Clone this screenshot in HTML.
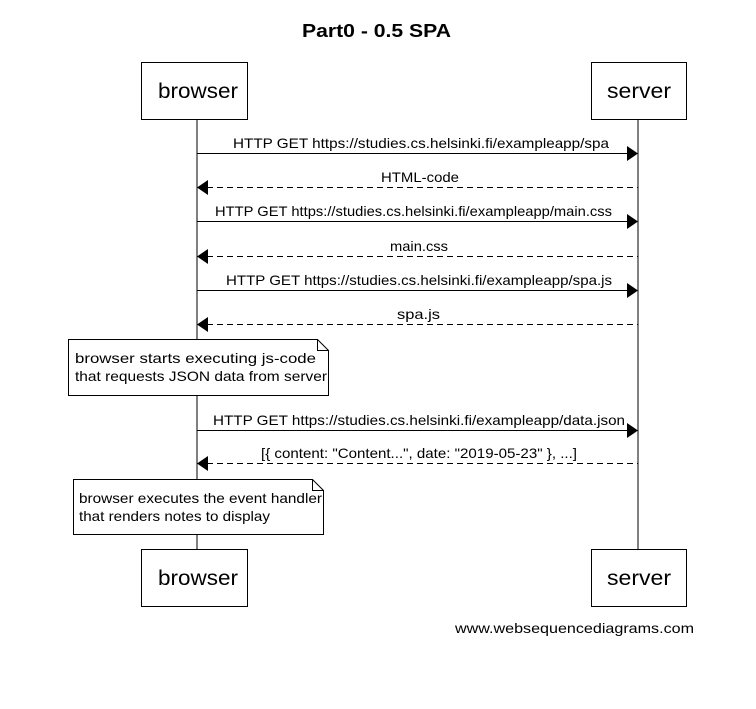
<!DOCTYPE html>
<html><head><style>body{margin:0;background:#fff}</style></head><body>
<svg width="756" height="704" xmlns="http://www.w3.org/2000/svg" font-family="Liberation Sans, sans-serif">
<rect width="756" height="704" fill="#fff"/>
<text x="302" y="37" textLength="149" lengthAdjust="spacingAndGlyphs" font-size="18" font-weight="bold">Part0 - 0.5 SPA</text>
<g stroke="#000" fill="#fff" stroke-width="1">
<line x1="197" y1="119" x2="197" y2="549"/>
<line x1="638" y1="119" x2="638" y2="549"/>
<rect x="141.5" y="62.5" width="106" height="57"/>
<rect x="591.5" y="62.5" width="95" height="57"/>
<rect x="141.5" y="549.5" width="106" height="57"/>
<rect x="591.5" y="549.5" width="95" height="57"/>
</g>
<g font-size="21" lengthAdjust="spacingAndGlyphs">
<text x="158" y="98" textLength="80" lengthAdjust="spacingAndGlyphs">browser</text><text x="607" y="98" textLength="64" lengthAdjust="spacingAndGlyphs">server</text>
<text x="158" y="585" textLength="80" lengthAdjust="spacingAndGlyphs">browser</text><text x="607" y="585" textLength="64" lengthAdjust="spacingAndGlyphs">server</text>
</g>
<g stroke="#000" stroke-width="1">
<line x1="197" y1="153.5" x2="628" y2="153.5"/>
<line x1="207" y1="187.5" x2="638" y2="187.5" stroke-dasharray="6,4"/>
<line x1="197" y1="221.5" x2="628" y2="221.5"/>
<line x1="207" y1="256.5" x2="638" y2="256.5" stroke-dasharray="6,4"/>
<line x1="197" y1="290.5" x2="628" y2="290.5"/>
<line x1="207" y1="324.5" x2="638" y2="324.5" stroke-dasharray="6,4"/>
<line x1="197" y1="430.5" x2="628" y2="430.5"/>
<line x1="207" y1="463.5" x2="638" y2="463.5" stroke-dasharray="6,4"/>
</g>
<g fill="#000">
<polygon points="627,146 638,153.5 627,161"/>
<polygon points="208,180 197,187.5 208,195"/>
<polygon points="627,214 638,221.5 627,229"/>
<polygon points="208,249 197,256.5 208,264"/>
<polygon points="627,283 638,290.5 627,298"/>
<polygon points="208,317 197,324.5 208,332"/>
<polygon points="627,423 638,430.5 627,438"/>
<polygon points="208,456 197,463.5 208,471"/>
</g>
<g font-size="14">
<text x="233" y="148" textLength="376" lengthAdjust="spacingAndGlyphs">HTTP GET https://studies.cs.helsinki.fi/exampleapp/spa</text>
<text x="381" y="182" textLength="78" lengthAdjust="spacingAndGlyphs">HTML-code</text>
<text x="215" y="216" textLength="397" lengthAdjust="spacingAndGlyphs">HTTP GET https://studies.cs.helsinki.fi/exampleapp/main.css</text>
<text x="390" y="251" textLength="58" lengthAdjust="spacingAndGlyphs">main.css</text>
<text x="226" y="285" textLength="386" lengthAdjust="spacingAndGlyphs">HTTP GET https://studies.cs.helsinki.fi/exampleapp/spa.js</text>
<text x="397" y="319" textLength="43" lengthAdjust="spacingAndGlyphs">spa.js</text>
<text x="213" y="425" textLength="412" lengthAdjust="spacingAndGlyphs">HTTP GET https://studies.cs.helsinki.fi/exampleapp/data.json</text>
<text x="261" y="458" textLength="316" lengthAdjust="spacingAndGlyphs">[{ content: "Content...", date: "2019-05-23" }, ...]</text>
</g>
<g stroke="#000" fill="#fff">
<path d="M68.5,339.5 H317.5 L328.5,350.5 V395.5 H68.5 Z"/>
<path d="M317.5,339.5 V350.5 H328.5" fill="none"/>
<path d="M73.5,479.5 H312.5 L323.5,490.5 V534.5 H73.5 Z"/>
<path d="M312.5,479.5 V490.5 H323.5" fill="none"/>
</g>
<g font-size="14">
<text x="75" y="363" textLength="241" lengthAdjust="spacingAndGlyphs">browser starts executing js-code</text>
<text x="75" y="381" textLength="252" lengthAdjust="spacingAndGlyphs">that requests JSON data from server</text>
<text x="79" y="503" textLength="243" lengthAdjust="spacingAndGlyphs">browser executes the event handler</text>
<text x="79" y="521" textLength="191" lengthAdjust="spacingAndGlyphs">that renders notes to display</text>
</g>
<text x="455" y="633" font-size="14" textLength="239" lengthAdjust="spacingAndGlyphs">www.websequencediagrams.com</text>
</svg>
</body></html>
